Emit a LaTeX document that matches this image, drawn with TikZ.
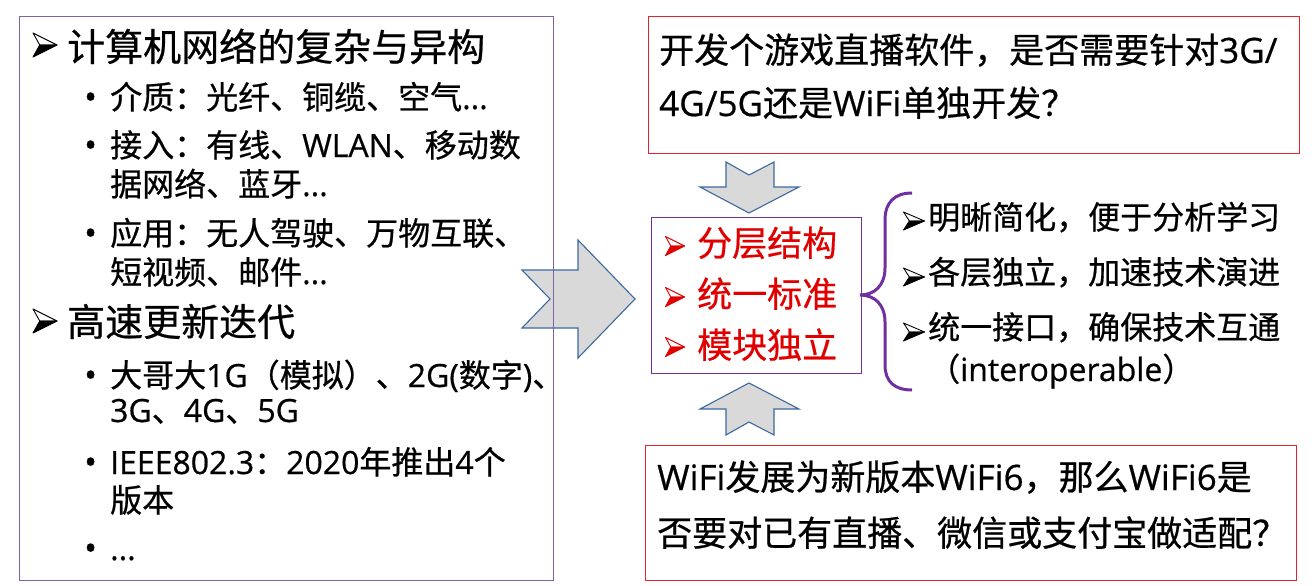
\documentclass[tikz,border=0pt]{standalone}
\usepackage{fontspec}
\setmainfont{Noto Sans CJK SC}[FakeBold=0.6]
\newfontfamily\latinfont{Open Sans}[FakeBold=0.6]

\newcommand\en[1]{{\latinfont #1}}

\definecolor{boxpurple}{HTML}{8064A2}
\definecolor{deeppurple}{HTML}{7030A0}
\definecolor{boxred}{HTML}{E0262D}
\definecolor{keyred}{HTML}{E00000}
\definecolor{arrowfill}{HTML}{D9D9D9}
\definecolor{arrowline}{HTML}{3B69A0}

\tikzset{
  txt/.style={inner sep=0pt, anchor=base west},
  headline/.style={txt, font=\fontsize{38}{38}\selectfont},
  itemline/.style={txt, font=\fontsize{32}{32}\selectfont},
  bulletdot/.style={txt, font=\latinfont\fontsize{34}{34}\selectfont},
  qline/.style={txt, font=\fontsize{35}{35}\selectfont},
  keyline/.style={txt, text=keyred, font=\fontsize{35}{35}\selectfont},
  gainline/.style={txt, font=\fontsize{32}{32}\selectfont},
  panel/.style={draw, line width=1.2pt, anchor=north west, inner sep=0pt},
  blockarrow/.style={fill=arrowfill, draw=arrowline, line width=1.1pt, line join=miter},
  % list marker: an arrowhead with a light upper facet and a solid lower facet
  arrowmark/.pic={
    \filldraw[draw=#1, fill=white, line width=0.9pt, line join=round]
      (-0.5,-0.5) -- (0.5,0) -- (-0.22,0) -- cycle;
    \filldraw[draw=#1, fill=#1, line width=0.9pt, line join=round]
      (-0.22,0) -- (0.5,0) -- (-0.5,0.5) -- cycle;
  },
}

\begin{document}
\begin{tikzpicture}[x=1pt, y=-1pt]
\useasboundingbox (0,0) rectangle (1314,586);

% block arrows between the panels
\draw[blockarrow] (522,270) -- (578,270) -- (578,240) -- (635,299) -- (578,358)
  -- (578,328) -- (522,328) -- (550,299) -- cycle;
\draw[blockarrow] (726,162) -- (749,175) -- (774,162) -- (774,187) -- (799,187)
  -- (749,213) -- (700,187) -- (726,187) -- cycle;
\draw[blockarrow] (749,383) -- (799,409) -- (774,409) -- (774,435) -- (749,422)
  -- (726,435) -- (726,409) -- (700,409) -- cycle;

% left panel: complexity and fast evolution
\node[panel, draw=boxpurple, minimum width=534pt, minimum height=564pt] (leftpanel) at (19,16) {};
\pic[xscale=24, yscale=24] at (45,45) {arrowmark=black};
\node[headline] (h1) at (67,61) {计算机网络的复杂与异构};
\node[bulletdot] (d1) at (84,109) {•};
\node[itemline] (i1) at (110,109) {介质：光纤、铜缆、空气\en{...}};
\node[bulletdot] (d2) at (84,157) {•};
\node[itemline] (i2) at (110,157) {接入：有线、\en{WLAN}、移动数};
\node[itemline] (i2b) at (110,196) {据网络、蓝牙\en{...}};
\node[bulletdot] (d3) at (84,245) {•};
\node[itemline] (i3) at (110,245) {应用：无人驾驶、万物互联、};
\node[itemline] (i3b) at (110,284) {短视频、邮件\en{...}};
\pic[xscale=24, yscale=24] at (45,321) {arrowmark=black};
\node[headline] (h2) at (67,336) {高速更新迭代};
\node[bulletdot] (d4) at (84,387) {•};
\node[itemline] (i4) at (110,387) {大哥大\en{1G}（模拟）、\en{2G(}数字\en{)}、};
\node[itemline] (i4b) at (110,422) {\en{3G}、\en{4G}、\en{5G}};
\node[bulletdot] (d5) at (84,474) {•};
\node[itemline] (i5) at (110,474) {\en{IEEE802.3}：\en{2020}年推出\en{4}个};
\node[itemline] (i5b) at (110,512) {版本};
\node[bulletdot] (d6) at (84,560) {•};
\node[itemline] (i6) at (110,560) {\en{...}};

% question panels
\node[panel, draw=boxred, minimum width=651pt, minimum height=137pt] (toppanel) at (648,16) {};
\node[qline] (q1) at (659,63) {开发个游戏直播软件，是否需要针对\en{3G/}};
\node[qline] (q1b) at (659,116) {\en{4G/5G}还是\en{WiFi}单独开发？};

\node[panel, draw=boxred, minimum width=651pt, minimum height=135pt] (botpanel) at (645,445) {};
\node[qline] (q2) at (657,490) {\en{WiFi}发展为新版本\en{WiFi6}，那么\en{WiFi6}是};
\node[qline] (q2b) at (657,546) {否要对已有直播、微信或支付宝做适配？};

% central key ideas
\node[panel, draw=deeppurple, line width=1pt, minimum width=210pt, minimum height=156pt] (keypanel) at (651,217) {};
\pic[xscale=19, yscale=19] at (675,246) {arrowmark=keyred};
\node[keyline] (k1) at (697,256) {分层结构};
\pic[xscale=19, yscale=19] at (675,297) {arrowmark=keyred};
\node[keyline] (k2) at (697,307) {统一标准};
\pic[xscale=19, yscale=19] at (675,347) {arrowmark=keyred};
\node[keyline] (k3) at (697,358) {模块独立};

% brace and benefits
\draw[deeppurple, line width=3pt]
  (912,193) .. controls (895,193) and (885,202) .. (885,220)
  -- (885,268) .. controls (885,285) and (875,295) .. (860,295)
  .. controls (875,295) and (885,305) .. (885,322)
  -- (885,365) .. controls (885,382) and (895,390) .. (912,390);
\pic[xscale=21, yscale=18] at (914,221) {arrowmark=black};
\node[gainline] (g1) at (928,229) {明晰简化，便于分析学习};
\pic[xscale=21, yscale=18] at (914,277) {arrowmark=black};
\node[gainline] (g2) at (928,284) {各层独立，加速技术演进};
\pic[xscale=21, yscale=18] at (914,332) {arrowmark=black};
\node[gainline] (g3) at (928,339) {统一接口，确保技术互通};
\node[gainline] (g3b) at (928,381) {（\en{interoperable}）};
\end{tikzpicture}
\end{document}
